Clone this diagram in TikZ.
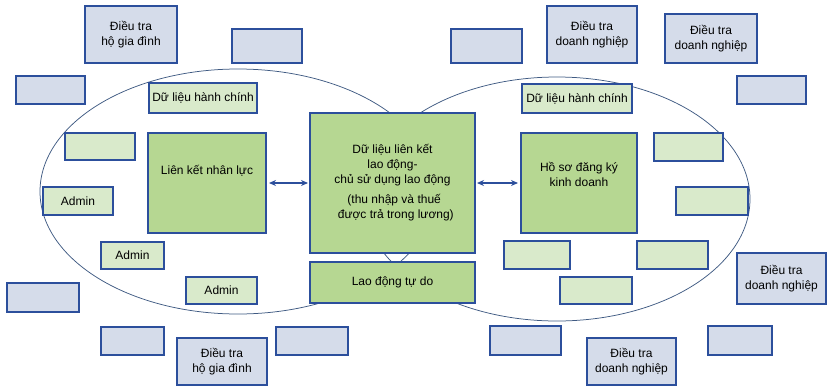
\documentclass[tikz,border=0pt]{standalone}
\usepackage{fontspec}
\setmainfont{Liberation Sans}
\usepackage{tikz}
\usetikzlibrary{arrows.meta}

\definecolor{bordo}{HTML}{2C4F9C}
\definecolor{xanhnhat}{HTML}{D5DCEA}
\definecolor{lanhat}{HTML}{D9EACB}
\definecolor{lachinh}{HTML}{B6D792}
\definecolor{vien}{HTML}{3F5A82}

\begin{document}
\begin{tikzpicture}[x=1pt,y=-1pt,
    every node/.style={font=\fontsize{12}{15}\selectfont, inner sep=1pt, outer sep=0pt, align=center},
    hop/.style 2 args={draw=bordo, line width=1.5pt, minimum width=#1pt, minimum height=#2pt},
    dieutra/.style 2 args={hop={#1}{#2}, fill=xanhnhat},
    hanhchinh/.style 2 args={hop={#1}{#2}, fill=lanhat},
    chinh/.style 2 args={hop={#1}{#2}, fill=lachinh},
    muiten/.style={draw=bordo, line width=1.2pt, {Stealth[length=7pt,width=6pt]}-{Stealth[length=7pt,width=6pt]}}]

  \useasboundingbox (0,0) rectangle (827,386);

  % ---------- hai vùng ellipse ----------
  \draw[vien, line width=0.75pt] (238,191.5) ellipse [x radius=198pt, y radius=122.5pt];
  \draw[vien, line width=0.75pt] (557,199) ellipse [x radius=193pt, y radius=122pt];

  % ---------- các ô điều tra (ngoài) ----------
  \node[dieutra={92}{57}] (hgdtren) at (131,34.5) {Điều tra\\hộ gia đình};
  \node[dieutra={70}{34}] (trong1) at (267,46) {};
  \node[dieutra={69}{28}] (trong2) at (50.5,90) {};
  \node[dieutra={71}{34}] (trong3) at (486.5,46) {};
  \node[dieutra={90}{57}] (dn1) at (592,34.5) {Điều tra\\doanh nghiệp};
  \node[dieutra={92}{49}] (dn2) at (711,38.5) {Điều tra\\doanh nghiệp};
  \node[dieutra={69}{28}] (trong4) at (771.5,90) {};
  \node[dieutra={72}{29}] (trong5) at (43,297.5) {};
  \node[dieutra={63}{28}] (trong6) at (132.5,341) {};
  \node[dieutra={90}{47}] (hgdduoi) at (222,361.5) {Điều tra\\hộ gia đình};
  \node[dieutra={72}{28}] (trong7) at (312,341) {};
  \node[dieutra={71}{29}] (trong8) at (525.5,340.5) {};
  \node[dieutra={89}{47}] (dn3) at (631.5,361.5) {Điều tra\\doanh nghiệp};
  \node[dieutra={64}{29}] (trong9) at (740,340.5) {};
  \node[dieutra={89}{51}] (dn4) at (781.5,278.5) {Điều tra\\doanh nghiệp};

  % ---------- dữ liệu hành chính (trong) ----------
  \node[hanhchinh={108}{30}] (hctrai) at (203,98) {Dữ liệu hành chính};
  \node[hanhchinh={110}{29}] (hcphai) at (577,98.5) {Dữ liệu hành chính};
  \node[hanhchinh={70}{27}] (xanh1) at (100,146.5) {};
  \node[hanhchinh={70}{28}] (admin1) at (78,201) {Admin};
  \node[hanhchinh={63}{27}] (admin2) at (132.5,255.5) {Admin};
  \node[hanhchinh={71}{27}] (admin3) at (221.5,290.5) {\\[-6pt]Admin};
  \node[hanhchinh={69}{28}] (xanh2) at (688.5,147) {};
  \node[hanhchinh={72}{28}] (xanh3) at (712,201) {};
  \node[hanhchinh={66}{28}] (xanh4) at (537,255) {};
  \node[hanhchinh={71}{28}] (xanh5) at (672.5,255) {};
  \node[hanhchinh={72}{27}] (xanh6) at (596,290.5) {};

  % ---------- các ô chính ----------
  \node[chinh={118}{100}] (nhanluc) at (207,183) {Liên kết nhân lực\\[12pt]};
  \node[chinh={165}{140}] (lienket) at (392.5,183)
    {Dữ liệu liên kết\\lao động-\\chủ sử dụng lao động\\[5pt]\ (thu nhập và thuế\\\ \ được trả trong lương)};
  \node[chinh={116}{100}] (dangky) at (579,183) {Hồ sơ đăng ký\\kinh doanh\\[2pt]};
  \node[chinh={165}{41}] (tudo) at (392.5,282.5) {Lao động tự do};

  % ---------- mũi tên ----------
  \draw[muiten, shorten <=3pt, shorten >=2pt] (nhanluc.east) -- (lienket.west);
  \draw[muiten, shorten <=2pt, shorten >=3pt] (lienket.east) -- (dangky.west);

\end{tikzpicture}
\end{document}
